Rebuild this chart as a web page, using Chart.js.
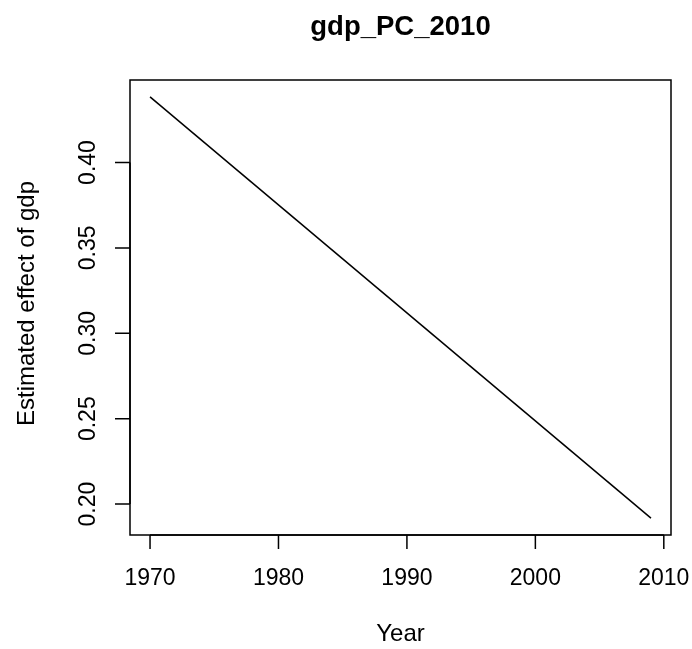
<!DOCTYPE html>
<html>
<head>
<meta charset="utf-8">
<script src="https://cdn.jsdelivr.net/npm/chart.js@4/dist/chart.umd.min.js"></script>
<style>
  html, body { margin: 0; padding: 0; background: #fff; }
  #wrap { width: 692px; height: 649px; }
</style>
</head>
<body>
<div id="wrap"><canvas id="c" width="692" height="649"></canvas></div>
<script>
// Data
const years = [1970, 2009];
const effect = [0.4384, 0.1918];
const xTicks = [1970, 1980, 1990, 2000, 2010];
const xTickLabels = ['1970', '1980', '1990', '2000', '2010'];
const yTicks = [0.20, 0.25, 0.30, 0.35, 0.40];
const yTickLabels = ['0.20', '0.25', '0.30', '0.35', '0.40'];
const titleText = 'gdp_PC_2010';
const xTitle = 'Year';
const yTitle = 'Estimated effect of gdp';

const FONT = '"Liberation Sans", Arial, Helvetica, sans-serif';

const rAxes = {
  id: 'rAxes',
  afterDraw(chart) {
    const ctx = chart.ctx;
    const a = chart.chartArea;
    const xs = chart.scales.x, ys = chart.scales.y;
    ctx.save();
    ctx.strokeStyle = '#000';
    ctx.fillStyle = '#000';
    ctx.lineWidth = 1.5;
    // box
    ctx.strokeRect(a.left, a.top, a.right - a.left, a.bottom - a.top);
    // x axis
    const x0 = xs.getPixelForValue(xTicks[0]);
    const x1 = xs.getPixelForValue(xTicks[xTicks.length - 1]);
    ctx.beginPath();
    ctx.moveTo(x0, a.bottom); ctx.lineTo(x1, a.bottom);
    xTicks.forEach(v => {
      const px = xs.getPixelForValue(v);
      ctx.moveTo(px, a.bottom); ctx.lineTo(px, a.bottom + 14);
    });
    // y axis
    const y0 = ys.getPixelForValue(yTicks[0]);
    const y1 = ys.getPixelForValue(yTicks[yTicks.length - 1]);
    ctx.moveTo(a.left, y0); ctx.lineTo(a.left, y1);
    yTicks.forEach(v => {
      const py = ys.getPixelForValue(v);
      ctx.moveTo(a.left, py); ctx.lineTo(a.left - 15, py);
    });
    ctx.stroke();

    ctx.font = '23px ' + FONT;
    ctx.textAlign = 'center';
    ctx.textBaseline = 'middle';
    xTicks.forEach((v, i) => {
      ctx.fillText(xTickLabels[i], xs.getPixelForValue(v), 579);
    });
    yTicks.forEach((v, i) => {
      ctx.save();
      ctx.translate(88.5, ys.getPixelForValue(v));
      ctx.rotate(-Math.PI / 2);
      ctx.fillText(yTickLabels[i], 0, 0);
      ctx.restore();
    });
    // axis titles
    ctx.font = '24px ' + FONT;
    ctx.fillText(xTitle, (a.left + a.right) / 2, 634);
    ctx.save();
    ctx.translate(27, (a.top + a.bottom) / 2 - 4);
    ctx.rotate(-Math.PI / 2);
    ctx.fillText(yTitle, 0, 0);
    ctx.restore();
    // main title
    ctx.font = 'bold 27.5px ' + FONT;
    ctx.textBaseline = 'alphabetic';
    ctx.fillText(titleText, (a.left + a.right) / 2, 35);
    ctx.restore();
  }
};

new Chart(document.getElementById('c'), {
  type: 'scatter',
  data: {
    datasets: [{
      data: years.map((y, i) => ({ x: y, y: effect[i] })),
      showLine: true,
      borderColor: '#000',
      borderWidth: 1.5,
      pointRadius: 0,
      fill: false
    }]
  },
  options: {
    responsive: false,
    animation: false,
    layout: { padding: { left: 130, right: 21, top: 80, bottom: 114 } },
    plugins: { legend: { display: false }, tooltip: { enabled: false }, title: { display: false } },
    scales: {
      x: { type: 'linear', display: false, min: 1968.44, max: 2010.56 },
      y: { type: 'linear', display: false, min: 0.1819, max: 0.4483 }
    }
  },
  plugins: [rAxes]
});
</script>
</body>
</html>
